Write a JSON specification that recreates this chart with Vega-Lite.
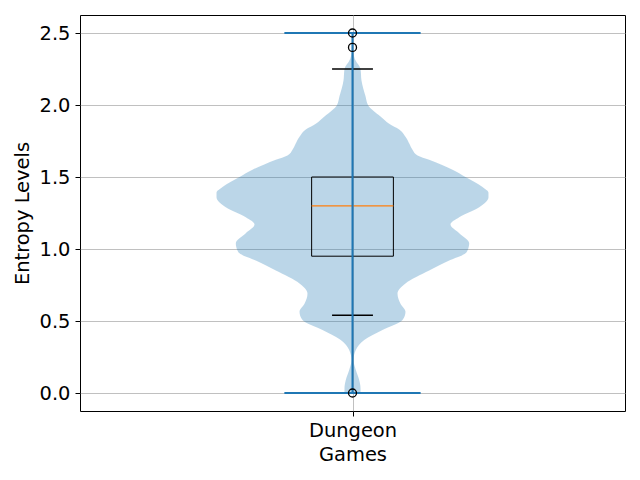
{
  "$schema": "https://vega.github.io/schema/vega-lite/v6.json",
  "width": 545,
  "height": 396,
  "autosize": {"type": "none"},
  "padding": {"left": 80, "top": 15, "right": 15, "bottom": 69},
  "background": "white",
  "config": {
    "view": {"stroke": "black", "strokeWidth": 1},
    "font": "DejaVu Sans"
  },
  "datasets": {
    "violin": [
      {"entropy": 0.0, "lo": 0.9853, "hi": 1.0147},
      {"entropy": 0.033, "lo": 0.9853, "hi": 1.0147},
      {"entropy": 0.09, "lo": 0.9877, "hi": 1.0123},
      {"entropy": 0.16, "lo": 0.9939, "hi": 1.0061},
      {"entropy": 0.229, "lo": 0.9982, "hi": 1.0018},
      {"entropy": 0.299, "lo": 0.9939, "hi": 1.0061},
      {"entropy": 0.368, "lo": 0.9785, "hi": 1.0215},
      {"entropy": 0.4375, "lo": 0.945, "hi": 1.055},
      {"entropy": 0.507, "lo": 0.9083, "hi": 1.0917},
      {"entropy": 0.565, "lo": 0.9028, "hi": 1.0972},
      {"entropy": 0.62, "lo": 0.9119, "hi": 1.0881},
      {"entropy": 0.69, "lo": 0.9174, "hi": 1.0826},
      {"entropy": 0.76, "lo": 0.9028, "hi": 1.0972},
      {"entropy": 0.85, "lo": 0.8593, "hi": 1.1407},
      {"entropy": 0.92, "lo": 0.8226, "hi": 1.1774},
      {"entropy": 0.97, "lo": 0.7927, "hi": 1.2073},
      {"entropy": 0.99, "lo": 0.789, "hi": 1.211},
      {"entropy": 1.04, "lo": 0.7859, "hi": 1.2141},
      {"entropy": 1.11, "lo": 0.8042, "hi": 1.1958},
      {"entropy": 1.17, "lo": 0.8202, "hi": 1.1798},
      {"entropy": 1.22, "lo": 0.8042, "hi": 1.1958},
      {"entropy": 1.29, "lo": 0.7675, "hi": 1.2325},
      {"entropy": 1.36, "lo": 0.7505, "hi": 1.2495},
      {"entropy": 1.39, "lo": 0.7505, "hi": 1.2495},
      {"entropy": 1.43, "lo": 0.7615, "hi": 1.2385},
      {"entropy": 1.5, "lo": 0.7927, "hi": 1.2073},
      {"entropy": 1.55, "lo": 0.8165, "hi": 1.1835},
      {"entropy": 1.62, "lo": 0.8593, "hi": 1.1407},
      {"entropy": 1.65, "lo": 0.8807, "hi": 1.1193},
      {"entropy": 1.69, "lo": 0.8899, "hi": 1.1101},
      {"entropy": 1.73, "lo": 0.8954, "hi": 1.1046},
      {"entropy": 1.78, "lo": 0.9028, "hi": 1.0972},
      {"entropy": 1.83, "lo": 0.9143, "hi": 1.0857},
      {"entropy": 1.87, "lo": 0.9327, "hi": 1.0673},
      {"entropy": 1.92, "lo": 0.9486, "hi": 1.0514},
      {"entropy": 2.0, "lo": 0.9716, "hi": 1.0284},
      {"entropy": 2.06, "lo": 0.9761, "hi": 1.0239},
      {"entropy": 2.17, "lo": 0.9835, "hi": 1.0165},
      {"entropy": 2.25, "lo": 0.9853, "hi": 1.0147},
      {"entropy": 2.31, "lo": 0.9945, "hi": 1.0055},
      {"entropy": 2.36, "lo": 0.9982, "hi": 1.0018},
      {"entropy": 2.5, "lo": 0.9991, "hi": 1.0009}
    ],
    "box": [{"q1": 0.95, "q3": 1.5, "median": 1.3, "left": 0.925, "right": 1.075}],
    "whiskers": [
      {"from": 1.5, "to": 2.25, "cap": 2.25, "cl": 0.9625, "cr": 1.0375},
      {"from": 0.95, "to": 0.54, "cap": 0.54, "cl": 0.9625, "cr": 1.0375}
    ],
    "extrema": [
      {"entropy": 0.0, "left": 0.875, "right": 1.125},
      {"entropy": 2.5, "left": 0.875, "right": 1.125}
    ],
    "bar": [{"pos": 1, "min": 0.0, "max": 2.5}],
    "fliers": [
      {"pos": 1, "entropy": 2.5},
      {"pos": 1, "entropy": 2.4},
      {"pos": 1, "entropy": 0.0}
    ]
  },
  "layer": [
    {
      "data": {"name": "violin"},
      "mark": {"type": "area", "orient": "horizontal", "color": "#1f77b4", "opacity": 0.3, "interpolate": "monotone"},
      "encoding": {
        "y": {
          "field": "entropy", "type": "quantitative",
          "scale": {"domain": [-0.125, 2.625], "nice": false, "zero": false},
          "axis": {
            "title": "Entropy Levels", "values": [0, 0.5, 1, 1.5, 2, 2.5], "format": ".1f", "grid": true,
            "titlePadding": 7, "labelFont": "DejaVu Sans", "titleFont": "DejaVu Sans",
            "labelFontSize": 19.44, "titleFontSize": 19.44, "titleFontWeight": "normal",
            "labelColor": "black", "titleColor": "black", "tickColor": "black", "tickSize": 5,
            "labelPadding": 5, "domain": false, "gridColor": "#b0b0b0", "gridWidth": 0.8
          }
        },
        "x": {
          "field": "lo", "type": "quantitative",
          "scale": {"domain": [0.5, 1.5], "nice": false, "zero": false},
          "axis": {
            "title": "Games", "values": [1], "labelExpr": "'Dungeon'", "grid": true,
            "titlePadding": 6, "labelFont": "DejaVu Sans", "titleFont": "DejaVu Sans",
            "labelFontSize": 19.44, "titleFontSize": 19.44, "titleFontWeight": "normal",
            "labelColor": "black", "titleColor": "black", "tickColor": "black", "tickSize": 5,
            "labelPadding": 5, "domain": false, "gridColor": "#b0b0b0", "gridWidth": 0.8
          }
        },
        "x2": {"field": "hi"}
      }
    },
    {
      "data": {"name": "box"},
      "mark": {"type": "rect", "fill": null, "fillOpacity": 0, "stroke": "black", "strokeWidth": 1},
      "encoding": {
        "x": {"field": "left", "type": "quantitative"},
        "x2": {"field": "right"},
        "y": {"field": "q1", "type": "quantitative"},
        "y2": {"field": "q3"}
      }
    },
    {
      "data": {"name": "box"},
      "mark": {"type": "rule", "color": "#ff7f0e", "strokeWidth": 1.3},
      "encoding": {
        "x": {"field": "left", "type": "quantitative"},
        "x2": {"field": "right"},
        "y": {"field": "median", "type": "quantitative"}
      }
    },
    {
      "data": {"name": "whiskers"},
      "mark": {"type": "rule", "color": "black", "strokeWidth": 1},
      "encoding": {
        "x": {"datum": 1, "type": "quantitative"},
        "y": {"field": "from", "type": "quantitative"},
        "y2": {"field": "to"}
      }
    },
    {
      "data": {"name": "whiskers"},
      "mark": {"type": "rule", "color": "black", "strokeWidth": 1.4},
      "encoding": {
        "x": {"field": "cl", "type": "quantitative"},
        "x2": {"field": "cr"},
        "y": {"field": "cap", "type": "quantitative"}
      }
    },
    {
      "data": {"name": "bar"},
      "mark": {"type": "rule", "color": "#1f77b4", "strokeWidth": 2},
      "encoding": {
        "x": {"field": "pos", "type": "quantitative"},
        "y": {"field": "min", "type": "quantitative"},
        "y2": {"field": "max"}
      }
    },
    {
      "data": {"name": "extrema"},
      "mark": {"type": "rule", "color": "#1f77b4", "strokeWidth": 2},
      "encoding": {
        "x": {"field": "left", "type": "quantitative"},
        "x2": {"field": "right"},
        "y": {"field": "entropy", "type": "quantitative"}
      }
    },
    {
      "data": {"name": "fliers"},
      "mark": {"type": "point", "shape": "circle", "filled": false, "stroke": "black", "strokeWidth": 1.3, "size": 64, "opacity": 1},
      "encoding": {
        "x": {"field": "pos", "type": "quantitative"},
        "y": {"field": "entropy", "type": "quantitative"}
      }
    }
  ]
}
